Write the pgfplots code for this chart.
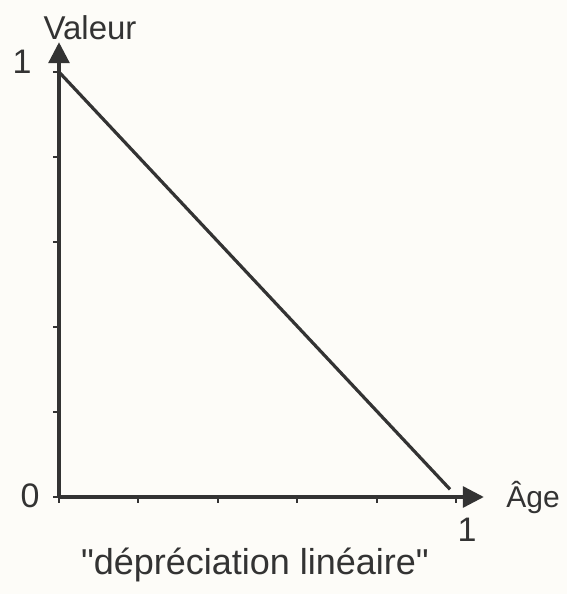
\documentclass[border=0pt]{standalone}
\usepackage{pgfplots}
\pgfplotsset{compat=1.18}
\usepackage{fontspec}
\setmainfont{Liberation Sans}
\usetikzlibrary{arrows.meta}
\definecolor{ink}{HTML}{333333}
\definecolor{paper}{HTML}{FDFCF8}
\newcommand{\sq}{\XeTeXglyph\XeTeXglyphindex "quotedbl"\relax}
\begin{document}
\begin{tikzpicture}
\fill[paper] (-59pt,-97pt) rectangle (508pt,497pt);
\begin{axis}[
  at={(0pt,0pt)}, anchor=origin,
  scale only axis,
  x=397pt, y=425pt,
  xmin=0, xmax=1.07, ymin=0, ymax=1.07,
  axis lines=left,
  axis line style={ink, line width=3.2pt, -{Triangle[length=21pt,width=21pt]}},
  tick align=outside,
  major tick length=6pt,
  tick style={ink, line width=2pt},
  xtick={0,0.2,0.4,0.6,0.8,1},
  ytick={0,0.2,0.4,0.6,0.8,1},
  xticklabels={}, yticklabels={},
  clip=false,
]
\addplot[ink, line width=3.2pt] coordinates {(0,1) (0.985,0.018)};
\node[ink, font=\fontsize{34}{36}\selectfont] at (axis cs:0,0) [xshift=-29pt, yshift=1pt] {0};
\node[ink, font=\fontsize{34}{36}\selectfont] at (axis cs:0,1) [xshift=-37pt, yshift=10pt] {1};
\node[ink, font=\fontsize{34}{36}\selectfont] at (axis cs:1,0) [xshift=11pt, yshift=-33pt] {1};
\node[ink, font=\fontsize{33}{35}\selectfont] at (axis cs:0,1) [xshift=31pt, yshift=44pt] {Valeur};
\node[ink, font=\fontsize{30}{32}\selectfont] at (axis cs:1,0) [xshift=77pt, yshift=-1pt] {Âge};
\node[ink, font=\fontsize{36}{38}\selectfont] at (axis cs:0,0) [xshift=196pt, yshift=-68pt] {\sq dépréciation linéaire\sq};
\end{axis}
\pgfresetboundingbox
\useasboundingbox (-59pt,-97pt) rectangle (508pt,497pt);
\end{tikzpicture}
\end{document}
